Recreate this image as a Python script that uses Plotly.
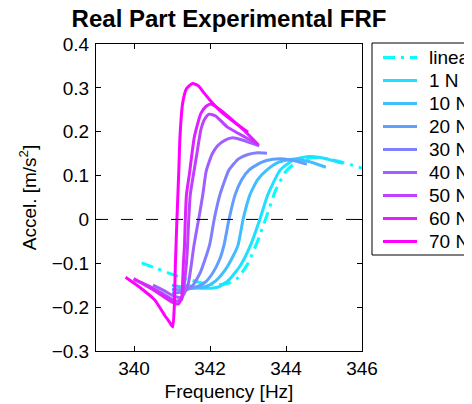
import plotly.graph_objects as go

# ---- data ----
labels = ["linear", "1 N", "10 N", "20 N", "30 N", "40 N", "50 N", "60 N", "70 N"]
colors = ["#00ffff", "#20dfff", "#40bfff", "#609fff", "#8080ff",
          "#9f60ff", "#bf40ff", "#df20ff", "#ff00ff"]

f_lin = [340.2, 340.6, 341.0, 341.4, 341.8, 342.2, 342.5, 342.75, 343.0, 343.25,
         343.46, 343.72, 344.0, 344.3, 344.7, 345.1, 345.5, 346.0]
a_lin = [-0.099, -0.112, -0.125, -0.136, -0.145, -0.149, -0.145, -0.132, -0.100, -0.050,
         0.0, 0.065, 0.110, 0.132, 0.141, 0.138, 0.130, 0.117]

f_1 = [341.35, 341.65, 341.95, 342.25, 342.5, 342.8, 343.07, 343.31, 343.52, 343.85,
       344.2, 344.55, 344.9, 345.2, 345.5]
a_1 = [-0.150, -0.155, -0.157, -0.153, -0.138, -0.105, -0.058, 0.0, 0.056, 0.113,
       0.136, 0.143, 0.141, 0.135, 0.128]

f_10 = [341.0, 341.3, 341.6, 341.9, 342.15, 342.4, 342.6, 342.74, 342.87, 343.05,
        343.25, 343.5, 343.8, 344.2, 344.6, 345.05]
a_10 = [-0.150, -0.155, -0.157, -0.153, -0.140, -0.115, -0.085, -0.058, 0.0, 0.056,
        0.090, 0.113, 0.130, 0.138, 0.132, 0.119]

f_20 = [341.0, 341.3, 341.6, 341.85, 342.05, 342.25, 342.37, 342.5, 342.66, 342.83,
        343.03, 343.35, 343.65, 343.95, 344.25, 344.55]
a_20 = [-0.160, -0.160, -0.155, -0.145, -0.125, -0.092, -0.058, 0.0, 0.056, 0.090,
        0.113, 0.130, 0.137, 0.138, 0.133, 0.126]

f_30 = [341.0, 341.3, 341.55, 341.75, 341.99, 342.11, 342.26, 342.5, 342.75, 343.0,
        343.25, 343.5]
a_30 = [-0.168, -0.165, -0.150, -0.120, -0.058, 0.0, 0.056, 0.113, 0.138, 0.148,
        0.152, 0.151]

f_40 = [340.5, 340.8, 341.05, 341.25, 341.42, 341.58, 341.70, 341.81, 341.9, 342.05,
        342.2, 342.4, 342.6, 342.85, 343.05, 343.3]
a_40 = [-0.150, -0.163, -0.175, -0.178, -0.150, -0.058, 0.0, 0.056, 0.110, 0.148,
        0.168, 0.181, 0.186, 0.181, 0.175, 0.168]

f_50 = [340.0, 340.4, 340.8, 341.1, 341.25, 341.38, 341.41, 341.44, 341.48, 341.54,
        341.67, 341.76, 341.87, 341.98, 342.15, 342.45, 342.75, 343.0, 343.25]
a_50 = [-0.137, -0.152, -0.172, -0.186, -0.183, -0.100, -0.058, 0.0, 0.056, 0.090,
        0.158, 0.205, 0.230, 0.240, 0.236, 0.211, 0.196, 0.184, 0.172]

f_60 = [339.99, 340.5, 340.99, 341.16, 341.25, 341.30, 341.33, 341.35, 341.38, 341.46,
        341.59, 341.76, 341.9, 342.02, 342.3, 342.6, 342.9, 343.27]
a_60 = [-0.135, -0.160, -0.188, -0.193, -0.180, -0.100, -0.058, 0.0, 0.056, 0.105,
        0.189, 0.242, 0.258, 0.263, 0.248, 0.226, 0.203, 0.170]

f_70 = [339.78, 340.2, 340.55, 340.81, 340.95, 341.02, 341.06, 341.09, 341.13, 341.18,
        341.21, 341.28, 341.38, 341.54, 341.7, 341.81, 342.0, 342.24, 342.68, 343.0]
a_70 = [-0.132, -0.158, -0.184, -0.219, -0.236, -0.245, -0.200, -0.100, 0.0, 0.113,
        0.189, 0.265, 0.298, 0.310, 0.304, 0.292, 0.272, 0.250, 0.219, 0.199]

x_ticks = [340, 342, 344, 346]
y_ticks = [-0.3, -0.2, -0.1, 0, 0.1, 0.2, 0.3, 0.4]

series_f = [f_lin, f_1, f_10, f_20, f_30, f_40, f_50, f_60, f_70]
series_a = [a_lin, a_1, a_10, a_20, a_30, a_40, a_50, a_60, a_70]

FONT = "Liberation Sans, Arial, Helvetica, sans-serif"
LIN_DASH = "12px,6px,3px,6px"

# layout geometry (figure pixels; page body adds an 8px offset)
W, H = 472, 404
ML, MT, PW, PH = 88, 36, 266, 307
MR, MB = W - ML - PW, H - MT - PH


def px(X):
    return (X - ML) / PW


def py(Y):
    return 1 - (Y - MT) / PH


fig = go.Figure()
for i, (lab, col, fx, ay) in enumerate(zip(labels, colors, series_f, series_a)):
    dash = LIN_DASH if i == 0 else "solid"
    fig.add_trace(go.Scatter(
        x=fx, y=ay, mode="lines", name=lab, showlegend=False,
        line=dict(color=col, width=3, dash=dash, shape="spline", smoothing=0.5),
    ))

# zero reference line
fig.add_shape(type="line", xref="paper", x0=0, x1=1, yref="y", y0=0, y1=0,
              line=dict(color="black", width=1, dash="12px,13px"), layer="above")

# legend (drawn manually to match the MATLAB-style box)
LEG_L, LEG_T, LEG_B = 364, 35, 247
fig.add_shape(type="rect", xref="paper", yref="paper",
              x0=px(LEG_L), x1=px(LEG_L + 140), y0=py(LEG_B), y1=py(LEG_T),
              line=dict(color="black", width=1), fillcolor="white", layer="above")
for i, (lab, col) in enumerate(zip(labels, colors)):
    yy = py(49.5 + 23.0 * i)
    fig.add_shape(type="line", xref="paper", yref="paper",
                  x0=px(375), x1=px(409), y0=yy, y1=yy, layer="above",
                  line=dict(color=col, width=3, dash=LIN_DASH if i == 0 else "solid"))
    fig.add_annotation(text=lab, xref="paper", yref="paper", x=px(419), y=yy,
                       xanchor="left", yanchor="middle", showarrow=False,
                       font=dict(family=FONT, size=19, color="black"))

axis_common = dict(
    showline=True, linecolor="black", linewidth=1, mirror="ticks",
    ticks="inside", ticklen=5, tickcolor="black", tickwidth=1,
    showgrid=False, zeroline=False,
    tickfont=dict(family=FONT, size=19, color="black"),
)

fig.update_layout(
    width=W, height=H,
    paper_bgcolor="white", plot_bgcolor="white",
    margin=dict(l=ML, r=MR, t=MT, b=MB, autoexpand=False),
    title=dict(text="<b>Real Part Experimental FRF</b>", x=0.5, xref="paper",
               y=1 - 10.5 / H, yref="container", yanchor="middle",
               font=dict(family=FONT, size=24, color="black")),
    xaxis=dict(range=[339, 346], tickvals=x_ticks,
               title=dict(text="Frequency [Hz]", font=dict(family=FONT, size=19, color="black"),
                          standoff=6),
               **axis_common),
    yaxis=dict(range=[-0.3, 0.4], tickvals=y_ticks,
               title=dict(text="Accel. [m/s<sup>2</sup>]", font=dict(family=FONT, size=19, color="black"),
                          standoff=10),
               ticklabelstandoff=2,
               **axis_common),
    showlegend=False,
)

fig.write_html("out.html")
